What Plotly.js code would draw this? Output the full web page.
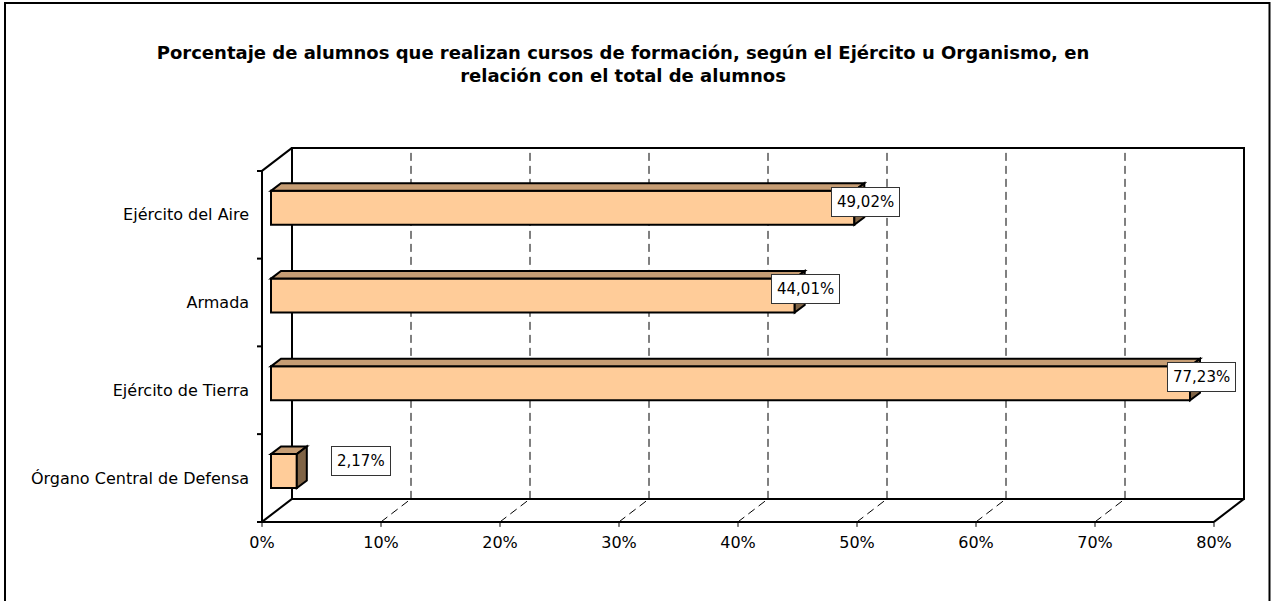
<!DOCTYPE html>
<html>
<head>
<meta charset="utf-8">
<script src="https://cdn.plot.ly/plotly-3.0.1.min.js"></script>
<style>
  html, body { margin: 0; padding: 0; background: #fff; }
  #chart { width: 1271px; height: 601px; }
</style>
</head>
<body>
<div id="chart"></div>
<script>
// datos
var categorias = ['Órgano Central de Defensa', 'Ejército de Tierra', 'Armada', 'Ejército del Aire'];
var porcentajes = [2.17, 77.23, 44.01, 49.02];
var ticksX = [0, 10, 20, 30, 40, 50, 60, 70, 80];
var ticksXText = ['0%', '10%', '20%', '30%', '40%', '50%', '60%', '70%', '80%'];

var W = 1271, H = 601;
// front plane in pixels: 0% at x=262, 1% = 11.9px ; category centres 87.75px apart
var x0px = 262, sx = 11.9, yc0 = 478, sy = 87.75;
var xr = [-1, 84], yr = [-0.6, 3.9];
// depth of the 3d box, expressed in data units
var DX = 30 / sx, DY = 23 / sy;
var barW = 34 / sy, barFront = 0.3, barDepth = 0.333;
var xmax = ticksX[ticksX.length - 1];
var ybot = -0.5, ytop = categorias.length - 0.5;
var FAMILY = 'DejaVu Sans, Verdana, sans-serif';

var shapes = [];
function line(xa, ya, xb, yb, opts) {
    var s = {type: 'line', xref: 'x', yref: 'y', x0: xa, y0: ya, x1: xb, y1: yb,
        line: {color: '#000', width: 2}, layer: 'above'};
    for (var k in opts) s[k] = opts[k];
    shapes.push(s);
}

// back wall
shapes.push({type: 'rect', xref: 'x', yref: 'y', x0: DX, y0: ybot + DY, x1: xmax + DX, y1: ytop + DY,
    line: {color: '#000', width: 2}, layer: 'below'});
ticksX.slice(1, -1).forEach(function(t) {
    line(t + DX, ybot + DY, t + DX, ytop + DY, {line: {color: '#000', width: 1, dash: '8px,5px'}, layer: 'below'});
    line(t, ybot, t + DX, ybot + DY, {line: {color: '#000', width: 1, dash: '8px,5px'}, layer: 'below'});
});
// floor and left wall (front edges)
line(0, ybot, xmax, ybot);
line(0, ybot, DX, ybot + DY);
line(xmax, ybot, xmax + DX, ybot + DY);
line(0, ybot, 0, ytop);
line(0, ytop, DX, ytop + DY);
// tick marks
ticksX.forEach(function(t) {
    shapes.push({type: 'line', xref: 'x', yref: 'y', ysizemode: 'pixel', yanchor: ybot,
        x0: t, x1: t, y0: 0, y1: -5, line: {color: '#000', width: 1}, layer: 'above'});
});
for (var i = 0; i <= categorias.length; i++) {
    shapes.push({type: 'line', xref: 'x', yref: 'y', xsizemode: 'pixel', xanchor: 0,
        x0: -5, x1: 0, y0: i - 0.5, y1: i - 0.5, line: {color: '#000', width: 2}, layer: 'above'});
}

// 3d faces of the bars
var fx = barFront * DX, fy = barFront * DY, dd = barDepth * DX, ddy = barDepth * DY;
var annotations = [];
porcentajes.forEach(function(v, c) {
    var xa = fx, xb = v + fx, yb = c + fy - barW / 2, yt = c + fy + barW / 2;
    shapes.push({type: 'path', xref: 'x', yref: 'y', layer: 'above',
        path: 'M' + xa + ',' + yt + ' L' + xb + ',' + yt + ' L' + (xb + dd) + ',' + (yt + ddy) +
              ' L' + (xa + dd) + ',' + (yt + ddy) + ' Z',
        fillcolor: '#C69D74', line: {color: '#000', width: 2}});
    shapes.push({type: 'path', xref: 'x', yref: 'y', layer: 'above',
        path: 'M' + xb + ',' + yb + ' L' + xb + ',' + yt + ' L' + (xb + dd) + ',' + (yt + ddy) +
              ' L' + (xb + dd) + ',' + (yb + ddy) + ' Z',
        fillcolor: '#806446', line: {color: '#000', width: 2}});
    var small = v < 5;
    annotations.push({xref: 'x', yref: 'y', x: xb, y: c, xshift: small ? 64 : 11, yshift: small ? 17 : 13,
        text: v.toFixed(2).replace('.', ',') + '%', showarrow: false,
        font: {family: FAMILY, size: 15, color: '#000'},
        bgcolor: '#fff', bordercolor: '#333', borderwidth: 1, borderpad: 5});
});

var trace = {
    type: 'bar',
    orientation: 'h',
    x: porcentajes,
    y: categorias.map(function(c, i) { return i; }),
    base: fx,
    width: barW,
    offset: fy - barW / 2,
    marker: {color: '#FFCC99', line: {color: '#000', width: 2}},
    hoverinfo: 'none'
};

// outer frame
shapes.push({type: 'rect', xref: 'paper', yref: 'paper', x0: 5 / W, x1: 1269.5 / W, y0: -0.1, y1: 1 - 3 / H,
    line: {color: '#000', width: 2}, layer: 'above'});

var font = {family: FAMILY, size: 16, color: '#000'};

var layout = {
    width: W, height: H,
    margin: {l: 0, r: 0, t: 0, b: 0},
    paper_bgcolor: '#fff', plot_bgcolor: '#fff',
    showlegend: false,
    font: font,
    title: {
        text: '<b>Porcentaje de alumnos que realizan cursos de formación, según el Ejército u Organismo, en<br>relación con el total de alumnos</b>',
        font: {family: FAMILY, size: 18, color: '#000'},
        x: 623 / W, xanchor: 'center', y: 1 - 59 / H, yanchor: 'middle'
    },
    xaxis: {
        range: xr,
        domain: [(x0px + xr[0] * sx) / W, (x0px + xr[1] * sx) / W],
        tickvals: ticksX, ticktext: ticksXText, ticks: '',
        showgrid: false, zeroline: false, showline: false, fixedrange: true,
        tickfont: font
    },
    yaxis: {
        range: yr,
        domain: [1 - (yc0 - yr[0] * sy) / H, 1 - (yc0 - yr[1] * sy) / H],
        tickvals: categorias.map(function(c, i) { return i; }), ticktext: categorias, ticks: '',
        showgrid: false, zeroline: false, showline: false, fixedrange: true,
        tickfont: font
    },
    shapes: shapes,
    annotations: annotations
};

Plotly.newPlot('chart', [trace], layout, {displayModeBar: false, staticPlot: true});
</script>
</body>
</html>
